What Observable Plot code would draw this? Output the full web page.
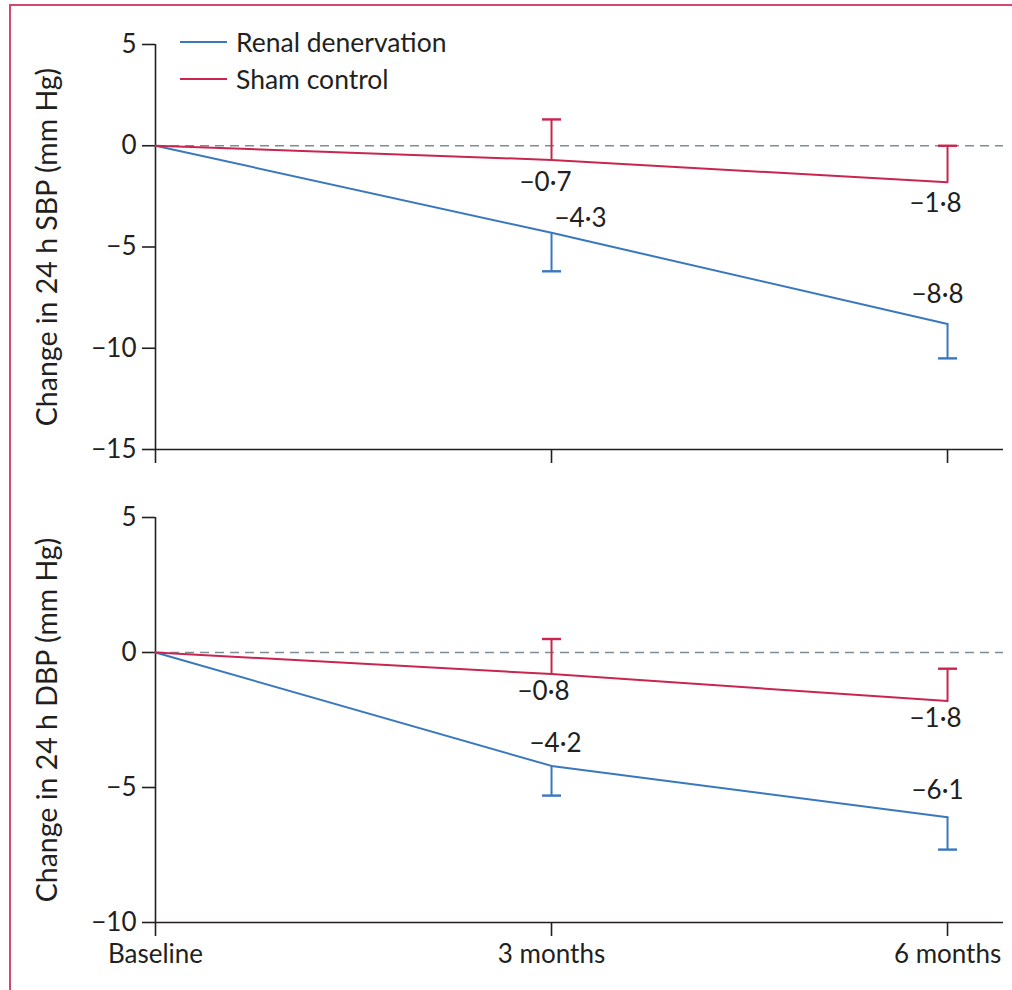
<!DOCTYPE html>
<html><head><meta charset="utf-8">
<script src="https://cdn.jsdelivr.net/npm/d3@7"></script>
<script src="https://cdn.jsdelivr.net/npm/@observablehq/plot@0.6"></script>
<style>
body{margin:0;background:#fff;}
#wrap{position:relative;width:1012px;height:990px;overflow:hidden;font-family:Lato,"Open Sans",sans-serif;color:#231f20;}
#frame{position:absolute;left:9px;top:4px;width:1100px;height:1100px;border-left:2px solid #d4476f;border-top:2px solid #d4476f;pointer-events:none;}
#charts{position:absolute;left:0;top:0;}
#charts svg{display:block;}
.leg{position:absolute;left:180px;font-size:26.5px;line-height:30px;display:flex;align-items:center;}
.leg i{display:inline-block;width:47px;height:2px;margin-right:9px;}
</style></head>
<body>
<div id="wrap">
  <div id="frame"></div>
  <div id="charts"></div>
  <div class="leg" style="top:27px"><i style="background:#3a78bd"></i>Renal denervation</div>
  <div class="leg" style="top:64px"><i style="background:#c8264f"></i>Sham control</div>
</div>
<script>
// ---- data ----
const timepoints = [0, 3, 6];
const timeLabels = ["Baseline", "3 months", "6 months"];
const seriesNames = ["Renal denervation", "Sham control"];
const seriesColors = ["#3a78bd", "#c8264f"];

const sbpRDN = [0, -4.3, -8.8];
const sbpRDNErr = [null, -6.2, -10.5];
const sbpSham = [0, -0.7, -1.8];
const sbpShamErr = [null, 1.3, 0.0];
const sbpTicks = [5, 0, -5, -10, -15];

const dbpRDN = [0, -4.2, -6.1];
const dbpRDNErr = [null, -5.3, -7.3];
const dbpSham = [0, -0.8, -1.8];
const dbpShamErr = [null, 0.5, -0.6];
const dbpTicks = [5, 0, -5, -10];

// ---- helpers ----
const minus = "\u2212";
const fmtTick = d => (d < 0 ? minus : "") + Math.abs(d);
const fmtVal = d => (d < 0 ? minus : "") + Math.abs(d).toFixed(1).replace(".", "\u00b7");
const capSymbol = {
  draw(ctx, size) {
    const r = Math.sqrt(size / Math.PI);
    ctx.moveTo(-r, 0); ctx.lineTo(r, 0);
  }
};
const ink = "#231f20";
const FS = 26;

function panel(o) {
  const rows = [];
  timepoints.forEach((t, i) => {
    rows.push({series: seriesNames[0], t, v: o.rdn[i], e: o.rdnErr[i], i, s: 0});
    rows.push({series: seriesNames[1], t, v: o.sham[i], e: o.shamErr[i], i, s: 1});
  });
  const errs = rows.filter(r => r.e != null);
  const labelMarks = rows.filter(r => r.i > 0).map(r => {
    const n = o.nudge[r.s][r.i - 1];
    return Plot.text([r], {x: "t", y: "v", text: d => fmtVal(d.v), dx: n[0], dy: n[1], fill: ink, fontSize: FS});
  });
  const yMin = o.yDomain[0], yMax = o.yDomain[1];
  return Plot.plot({
    width: 1012, height: o.height,
    marginLeft: 155, marginRight: 9, marginTop: o.marginTop, marginBottom: o.marginBottom,
    style: {fontFamily: "Lato, 'Open Sans', sans-serif", fontSize: FS + "px", color: ink, background: "transparent", overflow: "visible"},
    x: {domain: [0, 6.424]},
    y: {domain: [yMin, yMax]},
    color: {domain: seriesNames, range: seriesColors},
    marks: [
      Plot.ruleY([0], {stroke: "#7d8d97", strokeDasharray: "9,6", strokeWidth: 1.6}),
      Plot.ruleY([yMin], {stroke: ink, strokeWidth: 1.6}),
      Plot.ruleX([0], {y1: yMin, y2: yMax, stroke: ink, strokeWidth: 1.6}),
      Plot.axisY({ticks: o.yTicks, tickSize: 13, tickPadding: 6, tickFormat: fmtTick, stroke: ink, strokeWidth: 1.6,
        label: null, fontSize: FS}),
      Plot.axisY({ticks: [], label: o.ylabel, labelAnchor: "center", labelArrow: "none", labelOffset: o.labelOffset, fontSize: 28.5}),
      Plot.axisX({ticks: timepoints, tickSize: 14, tickPadding: 8, stroke: ink, strokeWidth: 1.6,
        tickFormat: o.showX ? (d => timeLabels[timepoints.indexOf(d)]) : (() => ""), label: null, fontSize: FS}),
      Plot.line(rows, {x: "t", y: "v", z: "series", stroke: "series", strokeWidth: 2}),
      Plot.ruleX(errs, {x: "t", y1: "v", y2: "e", stroke: "series", strokeWidth: 2}),
      Plot.dot(errs, {x: "t", y: "e", symbol: capSymbol, r: 9.5, stroke: "series", strokeWidth: 2.4, fill: "none"}),
      ...labelMarks
    ]
  });
}

const topPanel = panel({
  rdn: sbpRDN, rdnErr: sbpRDNErr, sham: sbpSham, shamErr: sbpShamErr,
  yDomain: [-15, 5], yTicks: sbpTicks, ylabel: "Change in 24 h SBP (mm Hg)",
  marginTop: 44, height: 469, marginBottom: 20, showX: false, labelOffset: 119,
  nudge: [[[29, -14], [-10, -29]], [[-6, 23], [-12, 21]]]
});
const bottomPanel = panel({
  rdn: dbpRDN, rdnErr: dbpRDNErr, sham: dbpSham, shamErr: dbpShamErr,
  yDomain: [-10, 5], yTicks: dbpTicks, ylabel: "Change in 24 h DBP (mm Hg)",
  marginTop: 48, height: 513, marginBottom: 60, showX: true, labelOffset: 119,
  nudge: [[[4, -22], [-10, -27]], [[-8, 18], [-12, 18]]]
});
const host = document.getElementById("charts");
host.appendChild(topPanel);
host.appendChild(bottomPanel);
</script>
</body></html>
